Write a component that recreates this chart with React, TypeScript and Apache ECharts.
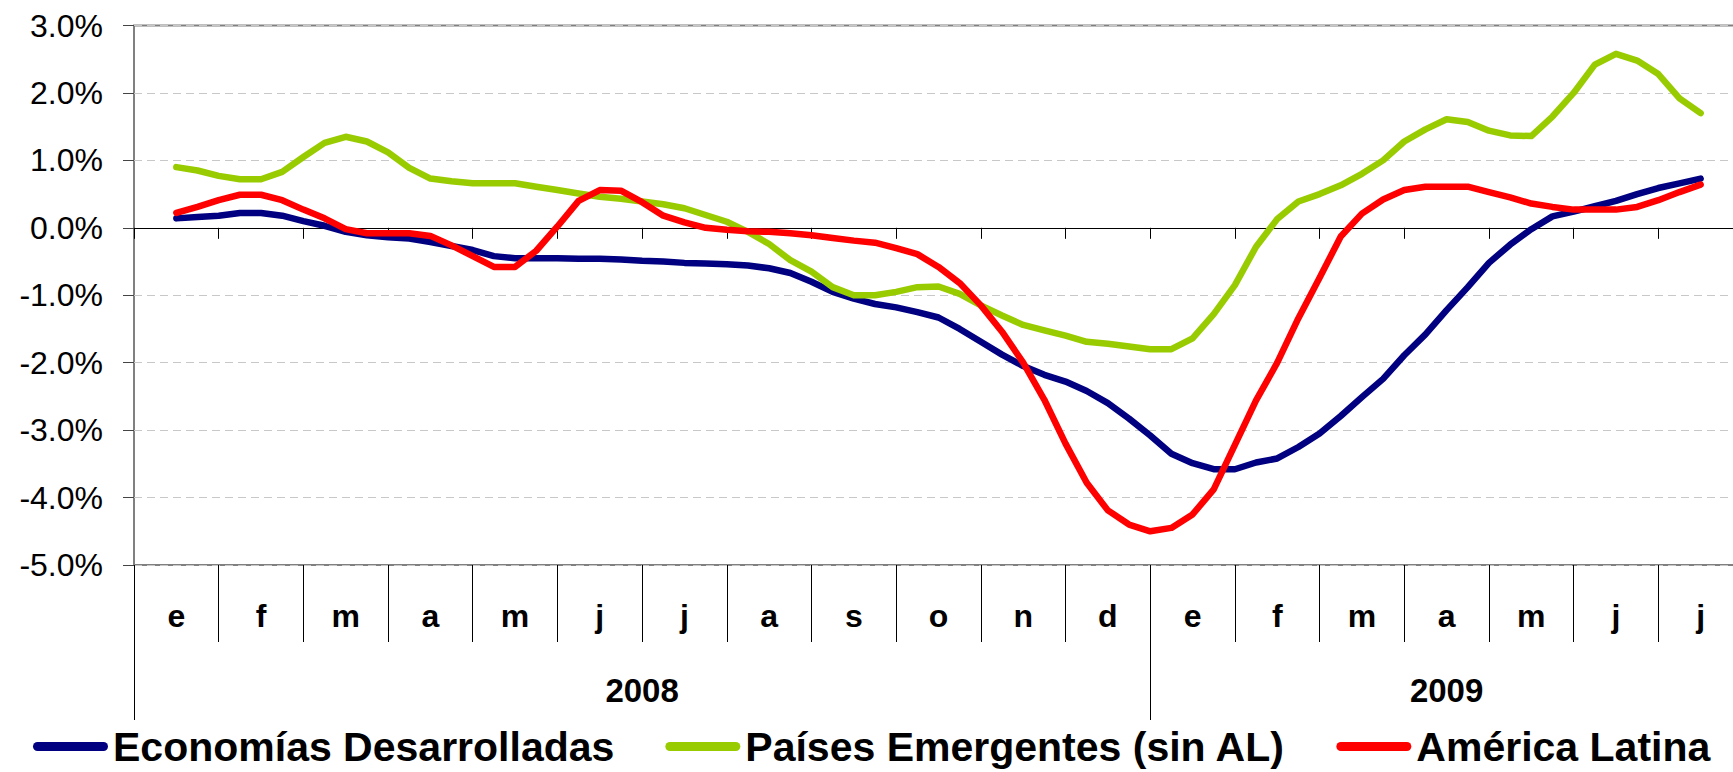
import React, { useEffect, useRef } from 'react';
import * as echarts from 'echarts';

const FONT = '"Liberation Sans", Arial, Helvetica, sans-serif';

// Category labels
const MONTHS = ['e', 'f', 'm', 'a', 'm', 'j', 'j', 'a', 's', 'o', 'n', 'd', 'e', 'f', 'm', 'a', 'm', 'j', 'j'];
const YEARS = ['2008', '2009'];
const MONTHS_PER_YEAR = [12, 7];

// Y axis
const Y_MIN = -5;
const Y_MAX = 3;
const Y_STEP = 1;

// Weekly observations: first point at the middle of Jan-2008, one point every quarter month
const FIRST_POINT = 0.5;
const POINT_STEP = 0.25;

const SERIES_NAMES = ['Economías Desarrolladas', 'Países Emergentes (sin AL)', 'América Latina'];
const COLORS = ['#000080', '#99CC00', '#FF0000'];

// Values in % (grouped by month)
const desarrolladas = [
  0.14, 0.16,
  0.18, 0.22, 0.22, 0.18,
  0.10, 0.03, -0.06, -0.11,
  -0.14, -0.16, -0.21, -0.27,
  -0.33, -0.42, -0.45, -0.45,
  -0.45, -0.46, -0.46, -0.47,
  -0.49, -0.50, -0.52, -0.53,
  -0.54, -0.56, -0.60, -0.67,
  -0.80, -0.95, -1.05, -1.13,
  -1.18, -1.25, -1.33, -1.50,
  -1.69, -1.88, -2.05, -2.18,
  -2.28, -2.42, -2.60, -2.83,
  -3.08, -3.35, -3.49, -3.58,
  -3.58, -3.48, -3.42, -3.25,
  -3.05, -2.79, -2.51, -2.24,
  -1.89, -1.58, -1.22, -0.88,
  -0.52, -0.25, -0.02, 0.17,
  0.24, 0.32, 0.40, 0.50,
  0.59, 0.66, 0.73,
];

const emergentes = [
  0.90, 0.85,
  0.77, 0.72, 0.72, 0.83,
  1.05, 1.26, 1.35, 1.28,
  1.12, 0.89, 0.73, 0.69,
  0.66, 0.66, 0.66, 0.61,
  0.56, 0.51, 0.46, 0.43,
  0.39, 0.35, 0.29, 0.19,
  0.09, -0.06, -0.24, -0.48,
  -0.65, -0.88, -1.00, -1.00,
  -0.95, -0.88, -0.87, -0.98,
  -1.15, -1.30, -1.44, -1.52,
  -1.60, -1.69, -1.72, -1.76,
  -1.80, -1.80, -1.64, -1.28,
  -0.85, -0.28, 0.13, 0.39,
  0.50, 0.63, 0.80, 1.00,
  1.28, 1.46, 1.61, 1.57,
  1.44, 1.37, 1.36, 1.65,
  2.00, 2.42, 2.58, 2.48,
  2.28, 1.92, 1.70,
];

const americaLatina = [
  0.22, 0.31,
  0.41, 0.49, 0.49, 0.41,
  0.27, 0.14, -0.02, -0.08,
  -0.08, -0.08, -0.12, -0.26,
  -0.42, -0.58, -0.58, -0.34,
  0.02, 0.40, 0.56, 0.55,
  0.38, 0.18, 0.08, 0.00,
  -0.03, -0.05, -0.06, -0.08,
  -0.11, -0.15, -0.19, -0.22,
  -0.30, -0.39, -0.58, -0.82,
  -1.15, -1.54, -2.00, -2.55,
  -3.20, -3.78, -4.19, -4.40,
  -4.50, -4.45, -4.25, -3.88,
  -3.22, -2.56, -2.00, -1.34,
  -0.74, -0.13, 0.21, 0.42,
  0.56, 0.61, 0.61, 0.61,
  0.53, 0.45, 0.36, 0.31,
  0.27, 0.27, 0.27, 0.31,
  0.41, 0.53, 0.64,
];

const SERIES_VALUES = [desarrolladas, emergentes, americaLatina];

export default function App() {
  const ref = useRef<HTMLDivElement>(null);

  useEffect(() => {
    if (!ref.current) return;
    const chart = echarts.init(ref.current, null, { renderer: 'svg' });

    const toPoints = (vals: number[]) => vals.map((v, i) => [FIRST_POINT + i * POINT_STEP, v]);

    const yearStarts: number[] = [];
    const yearCenters: number[] = [];
    let acc = 0;
    MONTHS_PER_YEAR.forEach((n) => {
      yearStarts.push(acc);
      yearCenters.push(acc + n / 2);
      acc += n;
    });
    const totalMonths = MONTHS.length;

    const option: any = {
      animation: false,
      backgroundColor: '#ffffff',
      grid: {
        left: 134,
        right: 17,
        top: 25.5,
        bottom: 207,
        show: true,
        borderColor: '#808080',
        borderWidth: 2,
        backgroundColor: 'transparent',
      },
      legend: {
        data: SERIES_NAMES,
        left: 33,
        top: 726,
        padding: 0,
        itemWidth: 75,
        itemHeight: 9,
        itemGap: 51,
        icon: 'path://M4.5,0 L70.5,0 A4.5,4.5 0 0 1 70.5,9 L4.5,9 A4.5,4.5 0 0 1 4.5,0 Z',
        textStyle: { fontSize: 41, fontWeight: 'bold', color: '#000', fontFamily: FONT },
      },
      xAxis: [
        {
          // data axis (weekly points, in month units), drawn on the zero line
          type: 'value',
          min: 0,
          max: totalMonths,
          interval: 1,
          position: 'bottom',
          axisLine: { show: true, onZero: true, lineStyle: { color: '#000', width: 1 } },
          axisTick: { show: true, length: 11, inside: false, lineStyle: { color: '#000', width: 1 } },
          axisLabel: { show: false },
          splitLine: { show: false },
        },
        {
          // month labels
          type: 'category',
          data: MONTHS,
          position: 'bottom',
          boundaryGap: true,
          axisLine: { show: false, onZero: false },
          axisTick: { show: true, interval: 0, length: 77, lineStyle: { color: '#000', width: 1 } },
          axisLabel: {
            interval: 0,
            margin: 35,
            fontSize: 32,
            fontWeight: 'bold',
            color: '#000',
            fontFamily: FONT,
          },
          splitLine: { show: false },
        },
        {
          // year labels
          type: 'value',
          min: 0,
          max: totalMonths,
          position: 'bottom',
          axisLine: { show: false, onZero: false },
          axisTick: {
            show: true,
            customValues: yearStarts,
            length: 155,
            lineStyle: { color: '#000', width: 1 },
          },
          axisLabel: {
            customValues: yearCenters,
            formatter: (v: number) => {
              const idx = yearCenters.indexOf(v);
              return idx >= 0 ? YEARS[idx] : '';
            },
            margin: 109,
            fontSize: 33,
            fontWeight: 'bold',
            color: '#000',
            fontFamily: FONT,
          },
          splitLine: { show: false },
        },
      ],
      yAxis: {
        type: 'value',
        min: Y_MIN,
        max: Y_MAX,
        interval: Y_STEP,
        axisLine: { show: false },
        axisTick: { show: true, length: 11, lineStyle: { color: '#444', width: 1 } },
        axisLabel: {
          formatter: (v: number) => v.toFixed(1) + '%',
          fontSize: 32,
          color: '#000',
          margin: 31,
          fontFamily: FONT,
        },
        splitLine: { show: true, lineStyle: { type: [8, 5], color: '#c8c8c8', width: 1 } },
      },
      series: SERIES_NAMES.map((name, k) => ({
        name,
        type: 'line',
        xAxisIndex: 0,
        yAxisIndex: 0,
        data: toPoints(SERIES_VALUES[k]),
        showSymbol: false,
        symbol: 'none',
        smooth: false,
        color: COLORS[k],
        itemStyle: { color: COLORS[k] },
        lineStyle: { color: COLORS[k], width: 6.5, cap: 'round', join: 'round' },
        z: 3 + k,
      })),
    };

    chart.setOption(option);
    return () => {
      chart.dispose();
    };
  }, []);

  return (
    <div
      ref={ref}
      style={{ position: 'fixed', left: 0, top: 0, width: 1760, height: 772, background: '#fff' }}
    />
  );
}
